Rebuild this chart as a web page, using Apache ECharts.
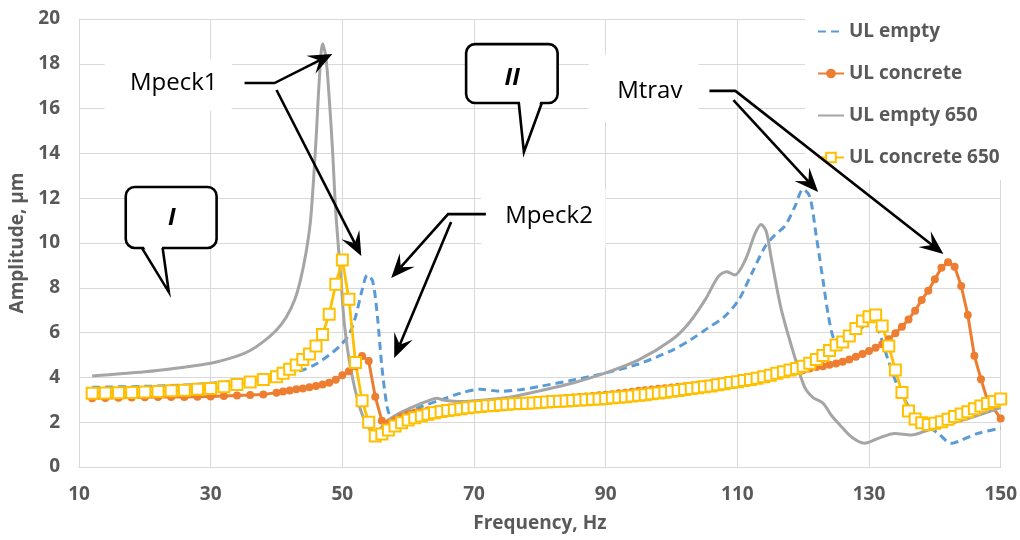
<!DOCTYPE html>
<html>
<head>
<meta charset="utf-8">
<script src="https://cdn.jsdelivr.net/npm/echarts@6/dist/echarts.min.js"></script>
<style>
  html, body { margin: 0; padding: 0; background: #fff; }
  #chart { width: 1020px; height: 540px; }
</style>
</head>
<body>
<div id="chart"></div>
<script>
// ---- data ----
// UL empty (dashed blue, smooth, no markers)
const freqEmpty = [12, 20, 26, 30, 34, 38, 41, 44, 46, 48, 49.5, 51, 52, 53, 53.8, 54.6, 55.3, 56, 56.8, 57.5, 58.5, 60, 62, 65, 68, 71, 74, 77, 80, 85, 90, 95, 100, 103, 105.5, 108, 110.2, 112.2, 114.2, 115.7, 117.2, 118.7, 120, 121, 122, 123, 123.8, 124.6, 125.4, 127.3, 129.3, 130.4, 131.4, 132.9, 134.4, 136.4, 138.4, 140.5, 142.5, 144, 146.5, 150]
const ampEmpty = [3.56, 3.6, 3.66, 3.74, 3.83, 3.95, 4.12, 4.33, 4.6, 5.0, 5.37, 5.9, 6.7, 7.9, 8.57, 8.3, 6.8, 4.5, 2.7, 2.2, 2.25, 2.45, 2.7, 3.0, 3.3, 3.47, 3.38, 3.45, 3.6, 3.88, 4.2, 4.6, 5.2, 5.7, 6.2, 6.7, 7.46, 8.65, 9.83, 10.36, 10.75, 11.6, 12.4, 12.07, 10.28, 8.35, 6.8, 5.75, 5.52, 5.74, 6.34, 6.56, 6.12, 4.78, 3.58, 2.54, 1.95, 1.5, 1.06, 1.2, 1.5, 1.73]

// UL empty 650 (grey, smooth, no markers)
const freqEmpty650 = [12, 20, 25, 30, 34, 36, 38, 40, 41.5, 42.7, 43.6, 44.5, 45.2, 46, 46.5, 47, 47.5, 48, 48.5, 49, 49.8, 50.3, 51.3, 52.6, 53.6, 54.5, 55.5, 57, 59, 61, 63, 64.3, 65.5, 68, 72, 76, 80, 85, 90, 95, 100, 102.6, 105.1, 107.1, 108.4, 109.6, 111.2, 112.7, 113.6, 114.4, 115.2, 116.7, 118.7, 120.2, 121.5, 123, 124.3, 125.5, 127.3, 129.3, 131.4, 133.9, 136.4, 139, 142.5, 146, 150]
const ampEmpty650 = [4.06, 4.25, 4.42, 4.63, 4.95, 5.2, 5.6, 6.12, 6.7, 7.42, 8.3, 9.6, 11.1, 14.6, 17.3, 18.9, 18.3, 16.5, 14.2, 11.4, 8.35, 6.4, 4.33, 2.7, 1.95, 1.6, 1.65, 2.1, 2.45, 2.72, 2.95, 3.07, 2.98, 2.92, 3.0, 3.15, 3.4, 3.75, 4.2, 4.78, 5.67, 6.41, 7.46, 8.5, 8.72, 8.57, 9.24, 10.43, 10.83, 10.5, 9.24, 7.0, 4.92, 3.58, 3.1, 2.85, 2.3, 1.9, 1.35, 1.06, 1.28, 1.5, 1.43, 1.65, 1.95, 2.25, 2.65]

// UL concrete (orange, round markers)
const freqConcrete = [12, 14, 16, 18, 20, 22, 24, 26, 28, 30, 32, 34, 36, 38,
  40, 41, 42, 43, 44, 45, 46, 47, 48, 49, 50, 51, 52, 53, 54, 55, 56, 57, 58, 59,
  60, 61, 62, 63, 64, 65, 66, 67, 68, 69, 70, 71, 72, 73, 74, 75, 76, 77, 78, 79,
  80, 81, 82, 83, 84, 85, 86, 87, 88, 89, 90, 91, 92, 93, 94, 95, 96, 97, 98, 99,
  100, 101, 102, 103, 104, 105, 106, 107, 108, 109, 110, 111, 112, 113, 114, 115, 116, 117, 118, 119,
  120, 121, 122, 123, 124, 125, 126, 127, 128, 129, 130, 131, 132, 133, 134, 135, 136, 137, 138, 139,
  140, 141, 142, 143, 144, 145, 146, 147, 148, 150]
const ampConcrete = [3.07, 3.08, 3.09, 3.10, 3.11, 3.12, 3.12, 3.13, 3.14, 3.15, 3.17, 3.19, 3.21, 3.24,
  3.32, 3.37, 3.42, 3.47, 3.51, 3.56, 3.62, 3.68, 3.76, 3.9, 4.1, 4.28, 4.5, 4.96, 4.73, 3.14, 2.07, 1.95, 2.1, 2.24,
  2.35, 2.43, 2.48, 2.52, 2.55, 2.58, 2.62, 2.65, 2.69, 2.72, 2.75, 2.78, 2.8, 2.83, 2.85, 2.88, 2.9, 2.92, 2.94, 2.96,
  2.98, 3.0, 3.03, 3.05, 3.08, 3.1, 3.12, 3.15, 3.17, 3.2, 3.22, 3.25, 3.29, 3.32, 3.36, 3.4, 3.43, 3.46, 3.49, 3.52,
  3.55, 3.58, 3.61, 3.64, 3.67, 3.7, 3.74, 3.78, 3.82, 3.86, 3.9, 3.94, 3.98, 4.02, 4.06, 4.1, 4.14, 4.19, 4.23, 4.28,
  4.33, 4.4, 4.46, 4.5, 4.56, 4.62, 4.7, 4.8, 4.92, 5.05, 5.18, 5.32, 5.48, 5.7, 5.97, 6.26, 6.59, 6.98, 7.46, 7.87,
  8.38, 8.9, 9.14, 8.94, 8.08, 6.79, 4.97, 3.92, 2.98, 2.17]

// UL concrete 650 (gold, hollow square markers)
const freqConcrete650 = [12, 14, 16, 18, 20, 22, 24, 26, 28, 30, 32, 34, 36, 38,
  40, 41, 42, 43, 44, 45, 46, 47, 48, 49, 50, 51, 52, 53, 54, 55, 56, 57, 58, 59,
  60, 61, 62, 63, 64, 65, 66, 67, 68, 69, 70, 71, 72, 73, 74, 75, 76, 77, 78, 79,
  80, 81, 82, 83, 84, 85, 86, 87, 88, 89, 90, 91, 92, 93, 94, 95, 96, 97, 98, 99,
  100, 101, 102, 103, 104, 105, 106, 107, 108, 109, 110, 111, 112, 113, 114, 115, 116, 117, 118, 119,
  120, 121, 122, 123, 124, 125, 126, 127, 128, 129, 130, 131, 132, 133, 134, 135, 136, 137, 138, 139,
  140, 141, 142, 143, 144, 145, 146, 147, 148, 149, 150]
const ampConcrete650 = [3.29, 3.3, 3.31, 3.33, 3.35, 3.37, 3.4, 3.43, 3.47, 3.51, 3.58, 3.68, 3.8, 3.91,
  4.03, 4.18, 4.36, 4.55, 4.8, 5.05, 5.4, 5.92, 6.82, 8.16, 9.24, 7.49, 4.67, 2.96, 2.0, 1.38, 1.47, 1.65, 1.83, 1.98,
  2.1, 2.2, 2.28, 2.35, 2.42, 2.48, 2.52, 2.56, 2.6, 2.64, 2.68, 2.7, 2.73, 2.75, 2.78, 2.8, 2.82, 2.83, 2.85, 2.86,
  2.88, 2.9, 2.92, 2.93, 2.95, 2.97, 2.99, 3.0, 3.02, 3.04, 3.06, 3.09, 3.11, 3.14, 3.17, 3.2, 3.23, 3.27, 3.3, 3.34,
  3.38, 3.42, 3.46, 3.5, 3.54, 3.58, 3.62, 3.67, 3.72, 3.77, 3.81, 3.86, 3.91, 3.96, 4.03, 4.1, 4.18, 4.25, 4.33, 4.4,
  4.5, 4.63, 4.8, 4.98, 5.2, 5.45, 5.58, 5.85, 6.18, 6.52, 6.71, 6.79, 6.29, 5.4, 4.33, 3.33, 2.5, 2.14, 1.98, 1.9,
  1.95, 2.02, 2.13, 2.25, 2.37, 2.47, 2.6, 2.72, 2.84, 2.92, 3.04]

const seriesNames = ['UL empty', 'UL concrete', 'UL empty 650', 'UL concrete 650']

const FONT = 'Open Sans'
const AXIS_GREY = '#D9D9D9'
const LABEL_GREY = '#595959'

const pair = (xs, ys) => xs.map((x, i) => [x, ys[i]])

const chart = echarts.init(document.getElementById('chart'))

chart.setOption({
  animation: false,
  backgroundColor: '#fff',
  grid: { left: 79, right: 18, top: 19, bottom: 73 },
  legend: {
    orient: 'vertical',
    left: 805,
    top: 0,
    padding: [21, 22, 12, 12],
    backgroundColor: '#fff',
    itemWidth: 26,
    itemHeight: 12,
    itemGap: 21,
    textStyle: { fontFamily: FONT, fontSize: 19, fontWeight: 'bold', color: LABEL_GREY, lineHeight: 21 },
    // lines without markers: hide the legend symbol, keep the line
    data: [
      { name: seriesNames[0], itemStyle: { opacity: 0 } },
      { name: seriesNames[1] },
      { name: seriesNames[2], itemStyle: { opacity: 0 } },
      { name: seriesNames[3] }
    ]
  },
  xAxis: {
    type: 'value',
    min: 10,
    max: 150,
    interval: 20,
    name: 'Frequency, Hz',
    nameLocation: 'middle',
    nameGap: 47,
    nameTextStyle: { fontFamily: FONT, fontSize: 19, fontWeight: 'bold', color: LABEL_GREY },
    axisLine: { lineStyle: { color: AXIS_GREY, width: 1 } },
    axisTick: { show: false },
    axisLabel: { fontFamily: FONT, fontSize: 19, fontWeight: 'bold', color: LABEL_GREY, margin: 18 },
    splitLine: { lineStyle: { color: AXIS_GREY, width: 1 } }
  },
  yAxis: {
    type: 'value',
    min: 0,
    max: 20,
    interval: 2,
    name: 'Amplitude, µm',
    nameLocation: 'middle',
    nameGap: 50,
    nameTextStyle: { fontFamily: FONT, fontSize: 19, fontWeight: 'bold', color: LABEL_GREY },
    axisLine: { show: true, lineStyle: { color: AXIS_GREY, width: 1 } },
    axisTick: { show: false },
    axisLabel: { fontFamily: FONT, fontSize: 19, fontWeight: 'bold', color: LABEL_GREY, margin: 19 },
    splitLine: { lineStyle: { color: AXIS_GREY, width: 1 } }
  },
  series: [
    {
      name: seriesNames[0],
      type: 'line',
      data: pair(freqEmpty, ampEmpty),
      smooth: 0.3,
      symbol: 'none',
      color: '#5B9BD5',
      lineStyle: { color: '#5B9BD5', width: 3, type: [8, 5] }
    },
    {
      name: seriesNames[1],
      type: 'line',
      data: pair(freqConcrete, ampConcrete),
      symbol: 'circle',
      symbolSize: 8,
      showAllSymbol: true,
      color: '#ED7D31',
      itemStyle: { color: '#ED7D31' },
      lineStyle: { color: '#ED7D31', width: 3 }
    },
    {
      name: seriesNames[2],
      type: 'line',
      data: pair(freqEmpty650, ampEmpty650),
      smooth: 0.3,
      symbol: 'none',
      color: '#A5A5A5',
      lineStyle: { color: '#A5A5A5', width: 3 }
    },
    {
      name: seriesNames[3],
      type: 'line',
      data: pair(freqConcrete650, ampConcrete650),
      symbol: 'rect',
      symbolSize: 11,
      showAllSymbol: true,
      color: '#FFC000',
      itemStyle: { color: '#fff', borderColor: '#FFC000', borderWidth: 2 },
      lineStyle: { color: '#FFC000', width: 2.8 }
    }
  ]
})

// ---- annotations, anchored in data units (Hz, µm) ----
const P = pt => chart.convertToPixel({ gridIndex: 0 }, pt)
const g = []

// white label box without border
function labelBox (x1, y1, x2, y2, text, center) {
  const a = P([x1, y1])
  const b = P([x2, y2])
  g.push({
    type: 'rect', z: 3,
    shape: { x: a[0], y: a[1], width: b[0] - a[0], height: b[1] - a[1] },
    style: { fill: '#fff' }
  })
  const c = P(center)
  g.push({
    type: 'text', z: 12, x: c[0], y: c[1],
    style: { text: text, fill: '#000', fontFamily: FONT, fontSize: 24, align: 'center', verticalAlign: 'middle' }
  })
}

// polyline ending in a stealth arrow head
function arrow (pts) {
  const px = pts.map(P)
  const tip = px[px.length - 1]
  const prev = px[px.length - 2]
  const len = Math.hypot(tip[0] - prev[0], tip[1] - prev[1])
  const d = [(tip[0] - prev[0]) / len, (tip[1] - prev[1]) / len]
  const n = [-d[1], d[0]]
  const L = 24
  const W = 10
  const notch = [tip[0] - 0.6 * L * d[0], tip[1] - 0.6 * L * d[1]]
  const line = px.slice(0, -1).concat([notch])
  g.push({
    type: 'polyline', z: 12,
    shape: { points: line },
    style: { stroke: '#000', lineWidth: 2.6, fill: null }
  })
  g.push({
    type: 'polygon', z: 12,
    shape: {
      points: [
        tip,
        [tip[0] - L * d[0] + W * n[0], tip[1] - L * d[1] + W * n[1]],
        notch,
        [tip[0] - L * d[0] - W * n[0], tip[1] - L * d[1] - W * n[1]]
      ]
    },
    style: { fill: '#000' }
  })
}

// rounded speech bubble with a tail under it
function bubble (x1, y1, x2, y2, baseL, baseR, tipPt, text, center) {
  const a = P([x1, y1])
  const b = P([x2, y2])
  g.push({
    type: 'rect', z: 5,
    shape: { x: a[0], y: a[1], width: b[0] - a[0], height: b[1] - a[1], r: 9 },
    style: { fill: '#fff', stroke: '#000', lineWidth: 2.6 }
  })
  const bl = P([baseL, y2])
  const br = P([baseR, y2])
  const t = P(tipPt)
  g.push({
    type: 'polygon', z: 6,
    shape: { points: [[bl[0] + 1, bl[1] - 3], [br[0] - 1, br[1] - 3], t] },
    style: { fill: '#fff' }
  })
  g.push({
    type: 'polyline', z: 7,
    shape: { points: [bl, t, br] },
    style: { stroke: '#000', lineWidth: 2.6, fill: null, lineJoin: 'miter' }
  })
  const c = P(center)
  g.push({
    type: 'text', z: 8, x: c[0], y: c[1],
    style: { text: text, fill: '#000', fontFamily: FONT, fontSize: 24, fontWeight: 'bold', fontStyle: 'italic', align: 'center', verticalAlign: 'middle' }
  })
}

labelBox(13.9, 18.2, 33.2, 15.9, 'Mpeck1', [24.4, 17.14])
labelBox(71.1, 12.4, 90.0, 9.8, 'Mpeck2', [81.4, 11.2])
labelBox(87.4, 18.4, 104.1, 15.4, 'Mtrav', [96.7, 16.79])

bubble(17.1, 12.5, 30.9, 9.78, 19.55, 22.7, [23.64, 7.81], 'I', [24.1, 11.1])
bubble(68.8, 18.88, 82.7, 16.25, 76.8, 80.3, [77.58, 14.06], 'II', [75.8, 17.35])

// Mpeck1 arrows
arrow([[35.15, 17.14], [39.7, 17.14], [48.48, 18.44]])
arrow([[40.0, 16.83], [52.88, 9.42]])
// Mpeck2 arrows
arrow([[71.8, 11.29], [66.06, 11.29], [57.42, 8.44]])
arrow([[66.52, 10.94], [57.88, 4.87]])
// Mtrav arrows
arrow([[105.76, 16.79], [109.7, 16.79], [141.3, 9.51]])
arrow([[109.4, 16.38], [122.27, 12.28]])

chart.setOption({ graphic: g })
</script>
</body>
</html>
